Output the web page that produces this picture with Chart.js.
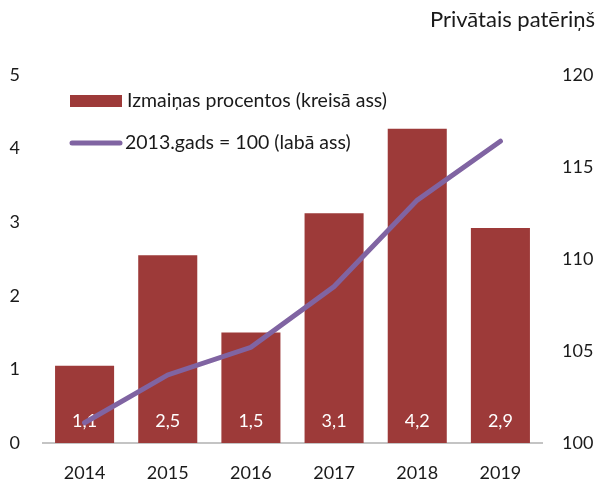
<!doctype html>
<html>

<head>
  <script src="https://cdn.jsdelivr.net/npm/chart.js@4/dist/chart.umd.min.js"></script>
  <style>
    body { margin: 0; background: #fff; }
    #wrap { width: 601px; height: 481px; }
  </style>
</head>

<body>
  <div id="wrap">
    <canvas id="canvas" width="601" height="481"></canvas>
  </div>
  <script>
    const years = ['2014', '2015', '2016', '2017', '2018', '2019'];
    // izmaiņas procentos (kreisā ass) - bar heights as drawn
    const changePct = [1.05, 2.55, 1.5, 3.12, 4.27, 2.92];
    const changeLabels = ['1,1', '2,5', '1,5', '3,1', '4,2', '2,9'];
    // 2013.gads = 100 (labā ass)
    const index2013 = [101.1, 103.7, 105.2, 108.5, 113.2, 116.4];

    const FONT = 'Lato, "Open Sans", sans-serif';
    const BAR = '#9d3a39';
    const LINE = '#8064a2';

    // legend, title and the values inside the bars
    const extras = {
      id: 'extras',
      afterDatasetDraw(chart, args) {
        if (args.index !== 0) return;
        const ctx = chart.ctx;
        const meta = chart.getDatasetMeta(0);
        const base = chart.scales.y.getPixelForValue(0);
        ctx.save();
        ctx.fillStyle = '#fff';
        ctx.font = '18px ' + FONT;
        ctx.textAlign = 'center';
        ctx.textBaseline = 'middle';
        meta.data.forEach((bar, i) => {
          ctx.fillText(changeLabels[i], bar.x, base - 22);
        });
        ctx.restore();
      },
      afterDraw(chart) {
        const ctx = chart.ctx;
        ctx.save();
        ctx.fillStyle = '#1a1a1a';
        ctx.font = '22px ' + FONT;
        ctx.textAlign = 'right';
        ctx.textBaseline = 'middle';
        ctx.fillText('Privātais patēriņš', 595, 20);

        // legend
        ctx.fillStyle = BAR;
        ctx.fillRect(70, 95, 52, 12);
        ctx.strokeStyle = LINE;
        ctx.lineWidth = 5;
        ctx.lineCap = 'round';
        ctx.beginPath();
        ctx.moveTo(72, 143);
        ctx.lineTo(120, 143);
        ctx.stroke();
        ctx.fillStyle = '#1a1a1a';
        ctx.font = '19.5px ' + FONT;
        ctx.textAlign = 'left';
        ctx.fillText(chart.data.datasets[0].label, 127, 101);
        ctx.fillText(chart.data.datasets[1].label, 125, 143);
        ctx.restore();
      }
    };

    new Chart(document.getElementById('canvas').getContext('2d'), {
      type: 'bar',
      data: {
        labels: years,
        datasets: [{
          label: 'Izmaiņas procentos (kreisā ass)',
          data: changePct,
          backgroundColor: BAR,
          barPercentage: 0.71,
          categoryPercentage: 1,
          yAxisID: 'y',
          order: 1
        }, {
          type: 'line',
          label: '2013.gads = 100 (labā ass)',
          data: index2013,
          borderColor: LINE,
          borderWidth: 5,
          borderCapStyle: 'round',
          pointRadius: 0,
          tension: 0,
          yAxisID: 'y1',
          order: 0
        }]
      },
      options: {
        responsive: false,
        animation: false,
        layout: { padding: { top: 75, left: 0, right: 0, bottom: 0 } },
        plugins: {
          legend: { display: false },
          tooltip: { enabled: false }
        },
        scales: {
          x: {
            grid: { display: false, drawTicks: false },
            border: { display: true, color: '#c4c4c4', width: 2 },
            ticks: { color: '#1a1a1a', font: { family: FONT, size: 18 }, padding: 19 },
            afterFit: (s) => { s.height = 38; }
          },
          y: {
            position: 'left',
            min: 0,
            max: 5,
            grid: { display: false, drawTicks: false },
            border: { display: false },
            ticks: { stepSize: 1, color: '#1a1a1a', font: { family: FONT, size: 18 }, padding: 23 },
            afterFit: (s) => { s.width = 43; }
          },
          y1: {
            position: 'right',
            min: 100,
            max: 120,
            grid: { display: false, drawTicks: false },
            border: { display: false },
            ticks: { stepSize: 5, color: '#1a1a1a', font: { family: FONT, size: 18 }, padding: 20 },
            afterFit: (s) => { s.width = 59; }
          }
        }
      },
      plugins: [extras]
    });
  </script>
</body>

</html>
